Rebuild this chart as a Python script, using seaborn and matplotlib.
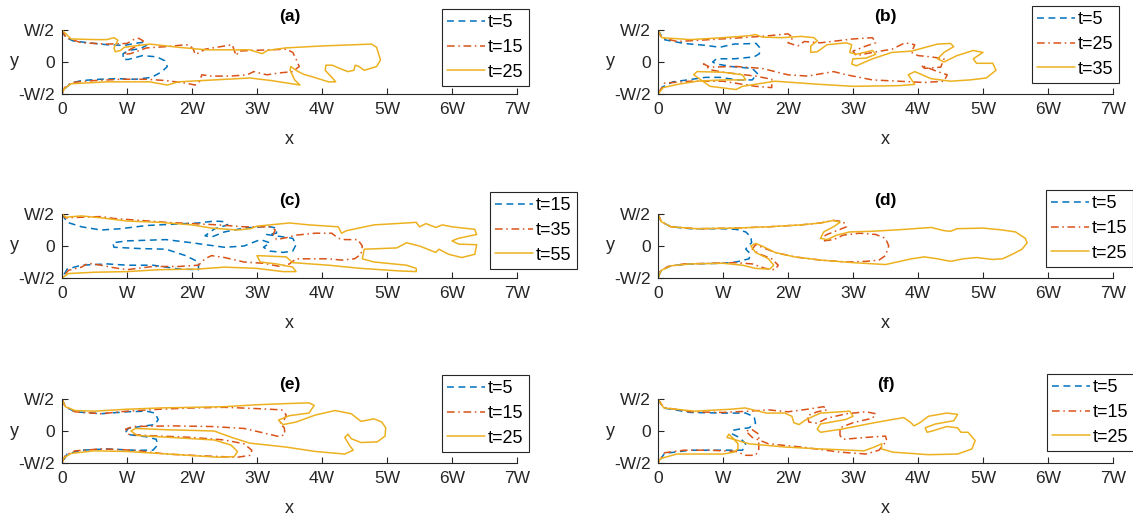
import numpy as np
import pandas as pd
import matplotlib
matplotlib.use("Agg")
import matplotlib.pyplot as plt
import seaborn as sns
from matplotlib.lines import Line2D

sns.set_theme(style="white")
plt.rcParams['font.family'] = ['Liberation Sans', 'DejaVu Sans']

# ---------------- data (x, y in units of W) ----------------
PANEL_TITLES = ['(a)', '(b)', '(c)', '(d)', '(e)', '(f)']
PANEL_TIMES = [['t=5', 't=15', 't=25'], ['t=5', 't=25', 't=35'], ['t=15', 't=35', 't=55'],
               ['t=5', 't=15', 't=25'], ['t=5', 't=15', 't=25'], ['t=5', 't=15', 't=25']]
XTICK_LABELS = ['0', 'W', '2W', '3W', '4W', '5W', '6W', '7W']
YTICK_LABELS = ['-W/2', '0', 'W/2']

A_1 = [(0,0.5),(0.05,0.39),(0.17,0.33),(0.41,0.3),(0.69,0.27),(0.96,0.26),(1.18,0.3),(1.29,0.31),(1.3,0.26),(1.21,0.21),(1.02,0.18),(0.94,0.13),(0.94,0.04),(1.02,0.04),(1.24,0.1),(1.46,0.08),(1.58,0.02),(1.62,-0.07),(1.54,-0.15),(1.38,-0.24),(1.13,-0.27),(0.85,-0.26),(0.58,-0.27),(0.3,-0.29),(0.14,-0.33),(0.05,-0.41),(0,-0.5)]
A_2 = [(0,0.5),(0.06,0.38),(0.3,0.3),(0.7,0.28),(1.0,0.29),(1.1,0.35),(1.18,0.37),(1.25,0.33),(1.2,0.27),(1.05,0.2),(0.95,0.12),(1.05,0.13),(1.3,0.22),(1.6,0.24),(1.8,0.26),(1.95,0.27),(2.02,0.2),(2.05,0.12),(2.12,0.15),(2.2,0.2),(2.5,0.25),(2.62,0.27),(2.65,0.18),(2.68,0.1),(2.72,0.17),(2.9,0.18),(3.2,0.19),(3.45,0.2),(3.55,0.15),(3.6,0.05),(3.65,-0.07),(3.55,-0.15),(3.35,-0.17),(3.15,-0.2),(2.95,-0.15),(2.85,-0.2),(2.6,-0.22),(2.3,-0.22),(2.15,-0.2),(2.12,-0.3),(2.05,-0.36),(1.9,-0.33),(1.6,-0.29),(1.3,-0.27),(0.9,-0.27),(0.5,-0.29),(0.15,-0.32),(0.04,-0.4),(0,-0.5)]
A_3 = [(0,0.5),(0.14,0.36),(0.5,0.35),(0.69,0.35),(0.8,0.38),(0.86,0.34),(0.8,0.22),(0.82,0.16),(0.9,0.18),(0.96,0.23),(1.35,0.28),(1.79,0.23),(2.23,0.19),(2.89,0.19),(3.08,0.13),(3.16,0.18),(3.44,0.22),(3.99,0.25),(4.76,0.28),(4.84,0.23),(4.9,0.03),(4.84,-0.07),(4.65,-0.13),(4.57,-0.07),(4.51,-0.05),(4.49,-0.13),(4.4,-0.15),(4.27,-0.1),(4.16,-0.05),(4.06,-0.05),(4.05,-0.13),(4.16,-0.25),(4.21,-0.31),(4.1,-0.31),(3.88,-0.24),(3.71,-0.19),(3.6,-0.13),(3.52,-0.07),(3.51,-0.13),(3.58,-0.28),(3.66,-0.36),(3.22,-0.29),(2.89,-0.25),(2.34,-0.28),(1.79,-0.31),(1.62,-0.36),(1.35,-0.31),(0.69,-0.31),(0.14,-0.34),(0.03,-0.42),(0,-0.5)]

B_1 = [(0,0.5),(0.09,0.35),(0.4,0.29),(0.73,0.26),(0.95,0.23),(1.17,0.28),(1.51,0.29),(1.56,0.23),(1.56,0.13),(1.48,0.08),(1.17,0.05),(0.9,0.05),(0.84,0.0),(0.9,-0.03),(1.12,-0.07),(1.45,-0.1),(1.53,-0.18),(1.45,-0.28),(1.23,-0.28),(0.95,-0.24),(0.73,-0.24),(0.45,-0.28),(0.23,-0.31),(0.07,-0.39),(0,-0.5)]
B_2 = [(0,0.5),(0.05,0.38),(0.3,0.32),(0.8,0.35),(1.3,0.38),(1.7,0.41),(2.0,0.44),(2.08,0.38),(2.0,0.3),(2.15,0.25),(2.25,0.32),(2.5,0.3),(3.0,0.36),(3.3,0.38),(3.35,0.3),(3.2,0.25),(3.0,0.17),(3.05,0.1),(3.3,0.15),(3.6,0.2),(3.8,0.3),(3.95,0.27),(3.9,0.15),(4.0,0.1),(4.2,0.08),(4.4,0.05),(4.35,-0.08),(4.1,-0.1),(4.05,-0.05),(4.3,-0.15),(4.45,-0.2),(4.4,-0.3),(4.1,-0.32),(3.7,-0.3),(3.3,-0.28),(2.9,-0.2),(2.7,-0.15),(2.3,-0.22),(2.0,-0.2),(1.6,-0.1),(1.2,-0.07),(0.8,-0.08),(0.7,-0.03),(0.8,-0.12),(1.0,-0.16),(1.5,-0.22),(1.75,-0.27),(1.75,-0.4),(1.5,-0.38),(1.0,-0.3),(0.5,-0.3),(0.1,-0.33),(0,-0.5)]
B_3 = [(0,0.5),(0.06,0.38),(0.5,0.35),(1.0,0.38),(1.4,0.41),(1.5,0.43),(1.6,0.39),(1.9,0.38),(2.2,0.4),(2.4,0.38),(2.45,0.33),(2.35,0.25),(2.35,0.15),(2.45,0.16),(2.6,0.27),(2.9,0.3),(2.98,0.27),(2.95,0.15),(3.05,0.12),(3.3,0.18),(3.35,0.12),(3.2,0.06),(3.0,0.05),(2.98,-0.03),(3.05,-0.06),(3.3,0.05),(3.6,0.15),(3.9,0.17),(4.3,0.28),(4.5,0.29),(4.55,0.24),(4.4,0.15),(4.3,0.05),(4.4,0.0),(4.6,0.1),(4.85,0.18),(5.0,0.15),(4.85,0.05),(4.9,-0.02),(5.15,-0.02),(5.2,-0.13),(5.05,-0.25),(4.8,-0.28),(4.5,-0.3),(4.2,-0.26),(3.95,-0.15),(3.85,-0.2),(3.95,-0.35),(3.7,-0.37),(3.0,-0.38),(2.5,-0.35),(1.8,-0.3),(1.3,-0.38),(1.2,-0.43),(0.8,-0.38),(0.55,-0.2),(0.6,-0.15),(1.0,-0.16),(1.3,-0.2),(1.35,-0.28),(1.0,-0.28),(0.6,-0.3),(0.3,-0.35),(0.08,-0.4),(0,-0.5)]

C_1 = [(0,0.5),(0.08,0.37),(0.3,0.3),(0.6,0.25),(0.9,0.27),(1.3,0.32),(1.7,0.34),(2.1,0.36),(2.35,0.39),(2.5,0.38),(2.55,0.33),(2.35,0.27),(2.2,0.16),(2.3,0.14),(2.5,0.22),(2.8,0.28),(3.05,0.3),(3.2,0.3),(3.3,0.28),(3.3,0.2),(3.15,0.18),(3.35,0.15),(3.55,0.12),(3.6,0.02),(3.55,-0.08),(3.4,-0.1),(3.2,-0.08),(3.1,-0.02),(3.2,0.05),(3.05,0.1),(2.8,0.0),(2.5,-0.02),(2.0,0.05),(1.6,0.1),(1.0,0.08),(0.78,0.05),(0.8,-0.02),(1.2,-0.04),(1.6,-0.05),(1.9,-0.15),(2.1,-0.25),(2.1,-0.37),(1.8,-0.36),(1.4,-0.3),(1.0,-0.3),(0.7,-0.28),(0.3,-0.3),(0.08,-0.36),(0,-0.5)]
C_2 = [(0,0.5),(0.05,0.44),(0.3,0.45),(0.6,0.46),(0.8,0.43),(1.2,0.4),(1.6,0.37),(2.0,0.35),(2.4,0.33),(2.8,0.3),(3.0,0.3),(3.2,0.3),(3.28,0.25),(3.25,0.18),(3.3,0.1),(3.45,0.13),(3.6,0.17),(3.9,0.2),(4.15,0.2),(4.25,0.12),(4.35,0.1),(4.55,0.1),(4.62,0.0),(4.6,-0.13),(4.5,-0.2),(4.3,-0.22),(4.1,-0.2),(3.9,-0.2),(3.6,-0.2),(3.5,-0.28),(3.35,-0.32),(3.1,-0.27),(2.8,-0.25),(2.5,-0.18),(2.3,-0.15),(2.2,-0.2),(2.1,-0.3),(1.8,-0.32),(1.4,-0.32),(1.0,-0.37),(0.8,-0.34),(0.6,-0.3),(0.4,-0.27),(0.3,-0.33),(0.1,-0.38),(0,-0.5)]
C_3 = [(0,0.5),(0.06,0.45),(0.3,0.47),(0.6,0.44),(1.0,0.39),(1.5,0.37),(2.0,0.33),(2.3,0.28),(2.7,0.25),(2.9,0.27),(3.0,0.31),(3.5,0.36),(3.8,0.33),(4.25,0.3),(4.3,0.2),(4.38,0.24),(4.8,0.33),(5.3,0.36),(5.45,0.37),(5.5,0.3),(5.6,0.35),(5.75,0.29),(5.85,0.33),(6.0,0.3),(6.35,0.26),(6.38,0.18),(6.1,0.12),(6.0,0.08),(6.1,0.03),(6.38,0.02),(6.35,-0.13),(6.15,-0.18),(5.95,-0.13),(5.8,-0.05),(5.75,-0.1),(5.6,-0.04),(5.5,0.0),(5.3,0.05),(5.15,-0.03),(4.9,-0.04),(4.65,-0.05),(4.62,-0.2),(4.8,-0.25),(5.3,-0.3),(5.45,-0.35),(5.45,-0.4),(5.2,-0.39),(4.6,-0.35),(4.1,-0.3),(3.55,-0.26),(3.45,-0.17),(3.0,-0.15),(3.05,-0.25),(3.3,-0.28),(3.55,-0.33),(3.6,-0.4),(3.4,-0.4),(3.0,-0.35),(2.5,-0.33),(2.1,-0.36),(1.5,-0.37),(1.0,-0.4),(0.5,-0.41),(0.1,-0.43),(0,-0.5)]

D_1 = [(0,0.5),(0.05,0.38),(0.2,0.3),(0.5,0.27),(1.0,0.27),(1.2,0.26),(1.35,0.22),(1.43,0.14),(1.44,0.05),(1.38,0.0),(1.35,-0.05),(1.42,-0.12),(1.4,-0.2),(1.2,-0.25),(1.0,-0.27),(0.5,-0.28),(0.2,-0.31),(0.05,-0.38),(0,-0.5)]
D_2 = [(0,0.5),(0.05,0.38),(0.2,0.3),(0.6,0.27),(1.2,0.28),(1.7,0.3),(2.2,0.33),(2.5,0.36),(2.7,0.4),(2.85,0.38),(2.9,0.3),(2.75,0.24),(2.6,0.18),(2.5,0.12),(2.55,0.08),(2.7,0.1),(2.85,0.17),(3.1,0.2),(3.35,0.18),(3.5,0.12),(3.55,0.0),(3.5,-0.15),(3.4,-0.22),(3.2,-0.24),(2.9,-0.25),(2.5,-0.22),(2.1,-0.17),(1.8,-0.1),(1.6,-0.02),(1.5,0.02),(1.45,-0.05),(1.55,-0.12),(1.75,-0.2),(1.85,-0.3),(1.8,-0.37),(1.65,-0.35),(1.45,-0.28),(1.2,-0.26),(0.8,-0.27),(0.4,-0.28),(0.15,-0.32),(0.03,-0.4),(0,-0.5)]
D_3 = [(0,0.5),(0.05,0.38),(0.2,0.3),(0.6,0.27),(1.2,0.28),(1.7,0.3),(2.2,0.33),(2.5,0.36),(2.7,0.4),(2.8,0.37),(2.7,0.3),(2.55,0.22),(2.5,0.12),(2.6,0.1),(2.75,0.17),(2.95,0.22),(3.3,0.23),(3.8,0.26),(4.2,0.29),(4.4,0.24),(4.5,0.23),(4.6,0.27),(5.0,0.28),(5.3,0.25),(5.5,0.22),(5.65,0.12),(5.68,0.05),(5.6,-0.05),(5.45,-0.13),(5.3,-0.2),(5.15,-0.21),(4.9,-0.18),(4.7,-0.2),(4.5,-0.24),(4.3,-0.2),(4.1,-0.17),(3.9,-0.2),(3.5,-0.29),(3.0,-0.26),(2.5,-0.22),(2.1,-0.17),(1.8,-0.1),(1.6,0.0),(1.5,0.04),(1.43,0.0),(1.5,-0.1),(1.7,-0.2),(1.78,-0.3),(1.72,-0.36),(1.5,-0.35),(1.3,-0.3),(1.0,-0.27),(0.5,-0.28),(0.2,-0.31),(0.05,-0.38),(0,-0.5)]

E_1 = [(0,0.5),(0.05,0.38),(0.2,0.3),(0.6,0.27),(1.0,0.3),(1.3,0.31),(1.43,0.28),(1.48,0.18),(1.43,0.1),(1.2,0.07),(1.02,0.04),(0.98,-0.02),(1.05,-0.06),(1.3,-0.09),(1.45,-0.13),(1.47,-0.22),(1.4,-0.3),(1.1,-0.3),(0.7,-0.28),(0.3,-0.3),(0.08,-0.36),(0,-0.5)]
E_2 = [(0,0.5),(0.05,0.38),(0.2,0.3),(0.6,0.27),(1.0,0.31),(1.5,0.34),(2.0,0.36),(2.5,0.37),(3.0,0.35),(3.38,0.33),(3.45,0.25),(3.42,0.18),(3.35,0.12),(3.42,0.05),(3.43,-0.05),(3.35,-0.09),(3.1,-0.03),(2.8,0.04),(2.3,0.07),(1.7,0.08),(1.1,0.07),(0.98,0.03),(1.02,-0.05),(1.3,-0.07),(2.0,-0.1),(2.5,-0.14),(2.8,-0.2),(2.92,-0.3),(2.9,-0.38),(2.7,-0.41),(2.2,-0.39),(1.6,-0.36),(1.1,-0.3),(0.6,-0.28),(0.2,-0.31),(0.05,-0.38),(0,-0.5)]
E_3 = [(0,0.5),(0.05,0.38),(0.2,0.32),(0.5,0.31),(1.0,0.34),(1.5,0.36),(2.0,0.37),(2.5,0.38),(3.0,0.41),(3.5,0.43),(3.8,0.44),(3.88,0.4),(3.8,0.28),(3.5,0.24),(3.33,0.17),(3.4,0.1),(3.6,0.14),(3.9,0.25),(4.2,0.32),(4.45,0.27),(4.6,0.15),(4.7,0.17),(4.8,0.19),(4.92,0.14),(4.98,0.05),(4.97,-0.08),(4.85,-0.17),(4.6,-0.18),(4.45,-0.12),(4.4,-0.05),(4.35,-0.1),(4.42,-0.22),(4.48,-0.3),(4.35,-0.36),(3.9,-0.32),(3.44,-0.25),(2.89,-0.19),(2.61,-0.1),(2.34,0.0),(1.6,0.02),(1.13,0.04),(1.06,0.0),(1.16,-0.07),(2.0,-0.12),(2.34,-0.14),(2.6,-0.22),(2.7,-0.32),(2.65,-0.4),(2.4,-0.41),(1.79,-0.37),(1.0,-0.32),(0.5,-0.31),(0.14,-0.35),(0.03,-0.42),(0,-0.5)]

F_1 = [(0,0.5),(0.08,0.36),(0.5,0.29),(1.0,0.28),(1.35,0.28),(1.48,0.22),(1.5,0.12),(1.4,0.05),(1.25,0.03),(1.15,0.01),(1.13,-0.04),(1.25,-0.1),(1.35,-0.2),(1.3,-0.3),(1.0,-0.3),(0.5,-0.3),(0.1,-0.35),(0,-0.5)]
F_2 = [(0,0.5),(0.08,0.37),(0.5,0.3),(1.0,0.29),(1.4,0.31),(1.7,0.33),(2.0,0.3),(2.3,0.34),(2.55,0.38),(2.6,0.33),(2.45,0.3),(2.3,0.24),(2.32,0.14),(2.45,0.12),(2.6,0.2),(2.9,0.27),(3.2,0.3),(3.35,0.27),(3.3,0.2),(3.0,0.13),(2.8,0.05),(2.8,-0.07),(2.85,-0.13),(3.2,-0.1),(3.5,-0.08),(3.52,-0.15),(3.4,-0.3),(3.2,-0.36),(2.8,-0.33),(2.2,-0.25),(1.7,-0.2),(1.45,-0.1),(1.35,0.0),(1.45,0.02),(1.55,-0.05),(1.55,-0.3),(1.5,-0.38),(1.35,-0.38),(1.2,-0.32),(0.8,-0.3),(0.4,-0.3),(0.1,-0.34),(0,-0.5)]
F_3 = [(0,0.5),(0.09,0.36),(0.56,0.31),(1.12,0.34),(1.34,0.36),(1.67,0.28),(1.95,0.28),(2.06,0.23),(2.09,0.13),(2.17,0.1),(2.28,0.18),(2.5,0.28),(2.95,0.31),(3.0,0.23),(2.89,0.18),(2.5,0.11),(2.45,0.03),(2.5,-0.02),(2.83,0.03),(3.33,0.13),(3.61,0.18),(3.78,0.21),(3.89,0.13),(3.94,0.08),(4.03,0.13),(4.16,0.23),(4.44,0.28),(4.61,0.26),(4.55,0.16),(4.27,0.11),(4.11,0.05),(4.14,-0.02),(4.22,0.0),(4.44,0.07),(4.61,0.05),(4.66,-0.02),(4.77,-0.02),(4.88,-0.15),(4.83,-0.28),(4.61,-0.36),(4.16,-0.37),(3.61,-0.33),(3.44,-0.28),(3.44,-0.2),(3.33,-0.25),(3.17,-0.31),(2.5,-0.28),(1.95,-0.25),(1.4,-0.2),(1.06,-0.1),(1.09,-0.05),(1.17,-0.13),(1.23,-0.2),(1.23,-0.28),(1.17,-0.33),(1.0,-0.36),(0.29,-0.36),(0.04,-0.43),(0,-0.5)]

PANEL_CURVES = [[A_1, A_2, A_3], [B_1, B_2, B_3], [C_1, C_2, C_3],
                [D_1, D_2, D_3], [E_1, E_2, E_3], [F_1, F_2, F_3]]

# ---------------- styling ----------------
COLORS = ['#0072BD', '#D95319', '#EDB120']
STYLES = [(0, (4.5, 3.0)), (0, (5.0, 2.4, 1.0, 2.4)), '-']
AX_COLOR = '#262626'

W_PX, H_PX = 1133, 516
fig = plt.figure(figsize=(W_PX / 100, H_PX / 100), dpi=100)

lefts = [62, 658]
bottoms = [94, 278, 463]
ylabel_x = [14, 610]
AX_W, AX_H = 455, 64
legend_pos = [(442, 9), (1032, 6), (490, 192), (1046, 190), (442, 375), (1047, 374)]

for i, (title, times, curves) in enumerate(zip(PANEL_TITLES, PANEL_TIMES, PANEL_CURVES)):
    row, col = divmod(i, 2)
    l = lefts[col]
    b = bottoms[row]
    ax = fig.add_axes([l / W_PX, 1 - b / H_PX, AX_W / W_PX, AX_H / H_PX])
    handles = []
    for k, (curve, lab) in enumerate(zip(curves, times)):
        df = pd.DataFrame(curve, columns=['x', 'y'])
        sns.lineplot(data=df, x='x', y='y', sort=False, estimator=None, ax=ax,
                     color=COLORS[k], linestyle=STYLES[k], linewidth=1.1)
        handles.append(Line2D([], [], color=COLORS[k], linestyle=STYLES[k], linewidth=1.1))
    ax.set_xlim(0, 7)
    ax.set_ylim(-0.5, 0.5)
    ax.set_xticks(range(8))
    ax.set_xticklabels(XTICK_LABELS)
    ax.set_yticks([-0.5, 0, 0.5])
    ax.set_yticklabels(YTICK_LABELS)
    for s in ['top', 'right']:
        ax.spines[s].set_visible(False)
    for s in ['left', 'bottom']:
        ax.spines[s].set_color(AX_COLOR)
        ax.spines[s].set_linewidth(0.8)
    ax.tick_params(axis='x', direction='in', length=4, width=0.8, color=AX_COLOR,
                   labelcolor=AX_COLOR, labelsize=12.5, pad=6, bottom=True)
    ax.tick_params(axis='y', direction='in', length=4, width=0.8, color=AX_COLOR,
                   labelcolor=AX_COLOR, labelsize=12.5, pad=5, left=True)
    ax.set_xlabel('x', fontsize=13, color=AX_COLOR)
    ax.set_ylabel('y', fontsize=13, color=AX_COLOR, rotation=0, va='center', ha='center')
    ax.xaxis.set_label_coords(0.5, -37 / AX_H)
    ax.yaxis.set_label_coords(-(l - ylabel_x[col]) / AX_W, 0.5)
    ax.text(0.5, 1 + 14 / AX_H, title, transform=ax.transAxes, ha='center', va='center',
            fontweight='bold', fontsize=12.5, color='black')
    ax.set_facecolor('white')
    lx, ly = legend_pos[i]
    leg = ax.legend(handles, times, loc='upper left',
                    bbox_to_anchor=(lx / W_PX, 1 - ly / H_PX), bbox_transform=fig.transFigure,
                    borderaxespad=0, fontsize=13, handlelength=2.1, handletextpad=0.15,
                    borderpad=0.3, labelspacing=0.42, frameon=True, fancybox=False,
                    framealpha=1, edgecolor=AX_COLOR)
    leg.get_frame().set_linewidth(0.8)
    for t in leg.get_texts():
        t.set_color('black')

fig.savefig('out.png', dpi=100, facecolor='white')
